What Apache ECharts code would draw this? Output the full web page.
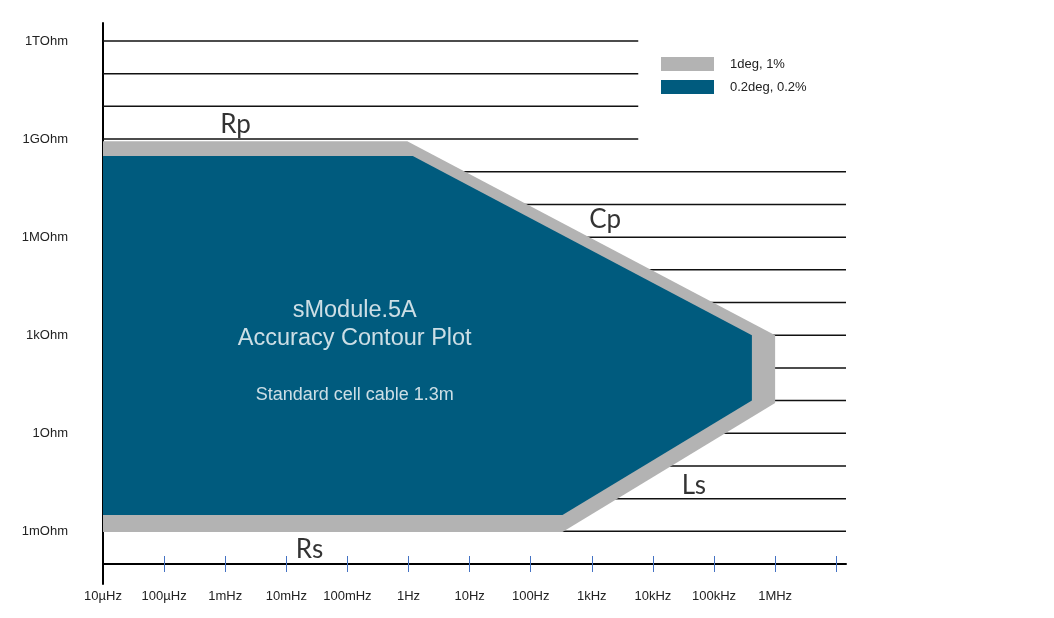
<!DOCTYPE html>
<html>
<head>
<meta charset="utf-8">
<script src="https://cdn.jsdelivr.net/npm/echarts@6/dist/echarts.min.js"></script>
<style>
  html, body { margin: 0; padding: 0; background: #fff; }
  #chart { width: 1054px; height: 618px; }
</style>
</head>
<body>
<div id="chart"></div>
<script>
// x = log10(frequency / Hz), y = log10(impedance / Ohm)
var xTickValues = [-5, -4, -3, -2, -1, 0, 1, 2, 3, 4, 5, 6];
var xTickLabels = ['10µHz', '100µHz', '1mHz', '10mHz', '100mHz', '1Hz', '10Hz', '100Hz', '1kHz', '10kHz', '100kHz', '1MHz'];
var xMarkValues = [-4, -3, -2, -1, 0, 1, 2, 3, 4, 5, 6, 7];

var yTickValues = [12, 9, 6, 3, 0, -3];
var yTickLabels = ['1TOhm', '1GOhm', '1MOhm', '1kOhm', '1Ohm', '1mOhm'];

// contour outlines, [log f, log R]
var contour1deg = [[-5, 8.93], [-0.02, 8.93], [6, 3.0], [6, 0.93], [2.52, -3.02], [-5, -3.02]];
var contour02deg = [[-5, 8.48], [0.07, 8.48], [5.62, 3.0], [5.62, 1.0], [2.52, -2.5], [-5, -2.5]];

// horizontal decade rules [x start, x end, y]
var rules = [
  [-5, 3.76, 12], [-5, 3.76, 11], [-5, 3.76, 10], [-5, 3.76, 9],
  [-5, 7.16, 8], [-5, 7.16, 7], [-5, 7.16, 6], [-5, 7.16, 5], [-5, 7.16, 4], [-5, 7.16, 3],
  [-5, 7.16, 2], [-5, 7.16, 1], [-5, 7.16, 0], [-5, 7.16, -1], [-5, 7.16, -2], [-5, 7.16, -3]
];

// region labels [x, y, text]
var regionLabels = [[-2.83, 9.45, 'Rp'], [3.22, 6.54, 'Cp'], [4.67, -1.59, 'Ls'], [-1.62, -3.55, 'Rs']];
// title lines [x, y, text, font size]
var titleLines = [[-0.88, 3.77, 'sModule.5A', 23.5], [-0.88, 2.91, 'Accuracy Contour Plot', 23.5], [-0.88, 1.17, 'Standard cell cable 1.3m', 18]];

function polygonSeries(name, points, color, z) {
  return {
    name: name,
    type: 'custom',
    z: z,
    itemStyle: { color: color },
    data: points,
    encode: { x: 0, y: 1 },
    renderItem: function (params, api) {
      if (params.dataIndex !== 0) return null;
      var pts = points.map(function (p) { return api.coord(p); });
      return { type: 'polygon', shape: { points: pts }, style: { fill: color } };
    }
  };
}

function init() {
  var chart = echarts.init(document.getElementById('chart'));
  var font = '"Liberation Sans", Arial, sans-serif';

  chart.setOption({
    animation: false,
    backgroundColor: '#fff',
    grid: { left: 103, right: 208, top: 23, bottom: 34 },
    legend: {
      orient: 'vertical',
      left: 661,
      top: 57,
      padding: 0,
      icon: 'rect',
      itemWidth: 53,
      itemHeight: 14,
      itemGap: 9,
      data: ['1deg, 1%', '0.2deg, 0.2%'],
      textStyle: { fontFamily: font, fontSize: 13, color: '#222', padding: [0, 0, 0, 11] }
    },
    xAxis: [{
      type: 'value',
      min: -5,
      max: 7.16,
      offset: -20,
      axisLine: { onZero: false, lineStyle: { color: '#000', width: 2 } },
      axisTick: { customValues: xMarkValues, length: 8, lineStyle: { color: '#4472c4', width: 1 } },
      axisLabel: {
        customValues: xTickValues,
        margin: 26,
        fontFamily: font,
        fontSize: 13,
        color: '#222',
        formatter: function (v) { return xTickLabels[xTickValues.indexOf(v)] || ''; }
      },
      splitLine: { show: false }
    }, {
      type: 'value',
      min: -5,
      max: 7.16,
      offset: -20,
      position: 'bottom',
      axisLine: { show: false, onZero: false },
      axisTick: { customValues: xMarkValues, inside: true, length: 8, lineStyle: { color: '#4472c4', width: 1 } },
      axisLabel: { show: false },
      splitLine: { show: false }
    }],
    yAxis: {
      type: 'value',
      min: -4.61,
      max: 12.55,
      axisLine: { show: true, onZero: false, lineStyle: { color: '#000', width: 2 } },
      axisTick: { show: false },
      splitLine: { show: false },
      axisLabel: {
        customValues: yTickValues,
        margin: 35,
        fontFamily: font,
        fontSize: 13,
        color: '#222',
        formatter: function (v) { return yTickLabels[yTickValues.indexOf(v)] || ''; }
      }
    },
    series: [
      {
        name: 'rules',
        type: 'custom',
        z: 1,
        data: rules,
        encode: { x: [0, 1], y: 2 },
        renderItem: function (params, api) {
          var a = api.coord([api.value(0), api.value(2)]);
          var b = api.coord([api.value(1), api.value(2)]);
          return {
            type: 'line',
            shape: { x1: a[0], y1: a[1], x2: b[0], y2: b[1] },
            style: { stroke: '#111', lineWidth: 1.5 }
          };
        }
      },
      polygonSeries('1deg, 1%', contour1deg, '#b3b3b3', 2),
      polygonSeries('0.2deg, 0.2%', contour02deg, '#005b7e', 3),
      {
        name: 'regions',
        type: 'scatter',
        z: 5,
        symbolSize: 0,
        data: regionLabels,
        label: {
          show: true,
          position: 'inside',
          formatter: function (p) { return p.value[2]; },
          fontFamily: 'Lato, "Open Sans", sans-serif',
          fontSize: 26,
          color: '#000'
        }
      },
      {
        name: 'title',
        type: 'scatter',
        z: 5,
        symbolSize: 0,
        data: titleLines.map(function (t) {
          return { value: t, label: { fontSize: t[3] } };
        }),
        label: {
          show: true,
          position: 'inside',
          formatter: function (p) { return p.value[2]; },
          fontFamily: font,
          color: '#fff'
        }
      }
    ]
  });
}

document.addEventListener('DOMContentLoaded', function () {
  init();
});
</script>
</body>
</html>
